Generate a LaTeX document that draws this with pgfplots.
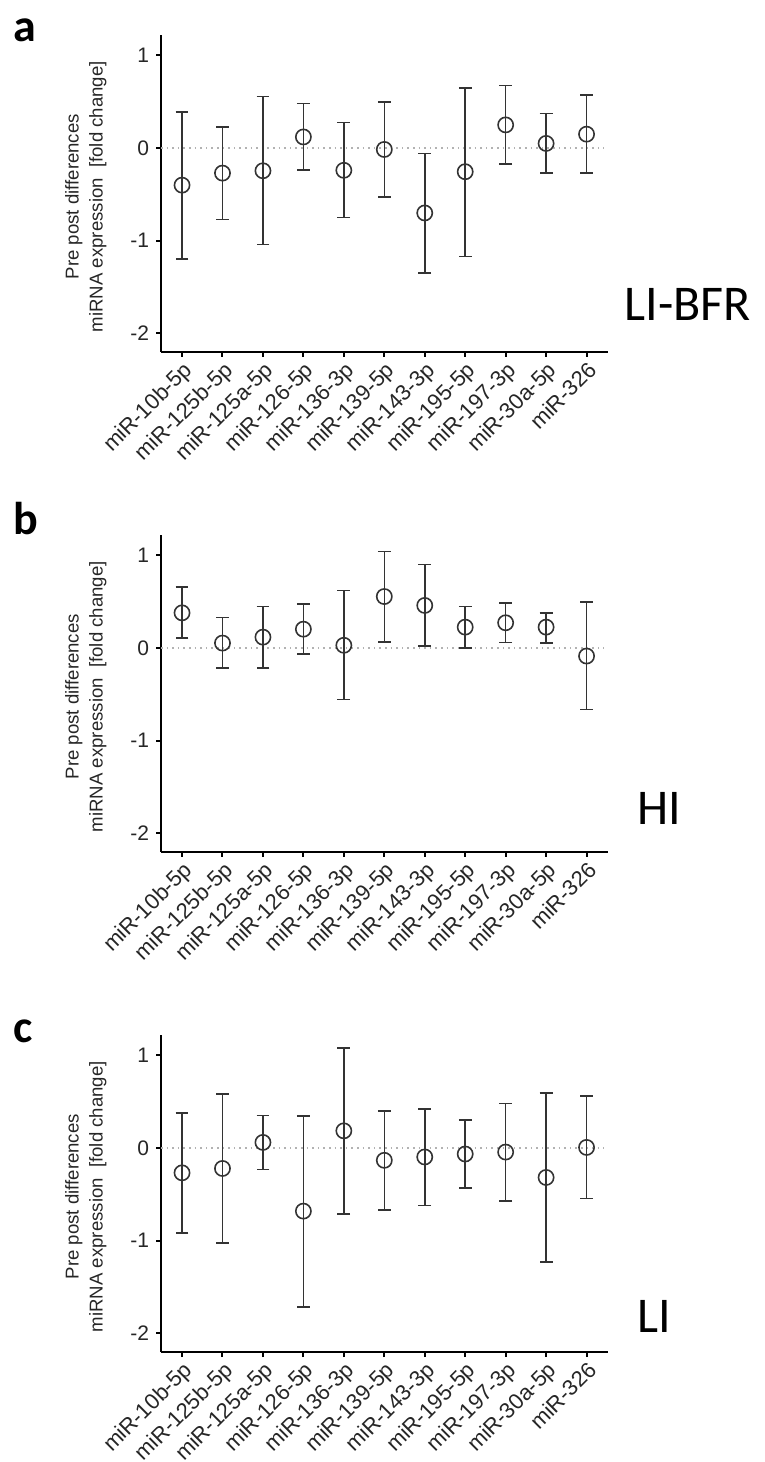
\documentclass[border=0pt]{standalone}
\usepackage{pgfplots}
\pgfplotsset{compat=1.18}
\usepackage{pgfplotstable}
\usepackage{fontspec}
\setmainfont{Liberation Sans}
\newfontfamily\carlito{Carlito}

\pgfplotstableread{
x y hi lo
0 -0.40 0.39 -1.20
1 -0.27 0.23 -0.77
2 -0.245 0.555 -1.04
3 0.12 0.48 -0.235
4 -0.24 0.275 -0.75
5 -0.015 0.50 -0.53
6 -0.70 -0.06 -1.35
7 -0.255 0.65 -1.17
8 0.25 0.675 -0.17
9 0.05 0.375 -0.27
10 0.15 0.575 -0.27
}\dataA

\pgfplotstableread{
x y hi lo
0 0.38 0.656 0.108
1 0.054 0.33 -0.215
2 0.118 0.45 -0.215
3 0.204 0.477 -0.065
4 0.03 0.62 -0.555
5 0.556 1.04 0.065
6 0.46 0.90 0.02
7 0.226 0.448 0.0
8 0.273 0.484 0.061
9 0.226 0.38 0.054
10 -0.086 0.495 -0.662
}\dataB

\pgfplotstableread{
x y hi lo
0 -0.267 0.379 -0.916
1 -0.22 0.582 -1.027
2 0.061 0.35 -0.231
3 -0.68 0.347 -1.715
4 0.186 1.077 -0.709
5 -0.132 0.40 -0.666
6 -0.096 0.421 -0.62
7 -0.064 0.30 -0.431
8 -0.043 0.481 -0.57
9 -0.317 0.596 -1.23
10 0.007 0.564 -0.545
}\dataC

\pgfplotsset{mirstyle/.style={
  scale only axis, width=223.5pt, height=158.5pt,
  xmin=-0.52, xmax=10.53, ymin=-2.2, ymax=1.22,
  axis lines*=left,
  axis line style={line width=1pt, black},
  xtick={0,1,2,3,4,5,6,7,8,9,10},
  xticklabels={miR-10b-5p,miR-125b-5p,miR-125a-5p,miR-126-5p,miR-136-3p,miR-139-5p,miR-143-3p,miR-195-5p,miR-197-3p,miR-30a-5p,miR-326},
  ytick={-2,-1,0,1}, yticklabels={-2,-1,0,1},
  tick align=outside, major tick length=2.5pt,
  tick style={line width=1pt, black},
  xticklabel style={rotate=45, anchor=north east, font=\fontsize{11}{12}\selectfont, inner sep=1pt, text=black!85},
  yticklabel style={font=\fontsize{10.5}{12}\selectfont, text=black!85},
  ylabel={Pre post differences\\miRNA expression\ \ [fold change]},
  every axis y label/.style={at={(axis description cs:-0.168,0.49)}, rotate=90, anchor=center,
     align=center, font=\fontsize{9.3}{12}\selectfont, text=black!85},
  clip=false,
}}

\newcommand{\panel}[1]{%
  \addplot[gray!60, dotted, line width=0.8pt, forget plot] coordinates {(-0.52,0) (10.42,0)};
  \addplot[black!80, line width=0.8pt, only marks, mark=o, mark size=3.8pt,
    error bars/.cd, y dir=both, y explicit,
    error bar style={line width=0.8pt, black!80},
    error mark options={rotate=90, mark size=3.2pt, line width=0.8pt, black!80}]
    table[x=x, y=y, y error plus expr=\thisrow{hi}-\thisrow{y}, y error minus expr=\thisrow{y}-\thisrow{lo}] {#1};
}

\begin{document}
\begin{tikzpicture}
\useasboundingbox (0,0) rectangle (382.5pt,731pt);
\begin{axis}[mirstyle, at={(80.5pt,555pt)}, anchor=south west]
\panel{\dataA}
\end{axis}
\begin{axis}[mirstyle, at={(80.5pt,305pt)}, anchor=south west]
\panel{\dataB}
\end{axis}
\begin{axis}[mirstyle, at={(80.5pt,55pt)}, anchor=south west]
\panel{\dataC}
\end{axis}
\node[anchor=base west, font=\carlito\bfseries\fontsize{23}{24}\selectfont, inner sep=0pt] at (6.5pt,710pt) {a};
\node[anchor=base west, font=\carlito\bfseries\fontsize{23}{24}\selectfont, inner sep=0pt] at (6.5pt,463.5pt) {b};
\node[anchor=base west, font=\carlito\bfseries\fontsize{23}{24}\selectfont, inner sep=0pt] at (6.5pt,209.5pt) {c};
\node[anchor=base west, font=\carlito\fontsize{25}{28}\selectfont, inner sep=0pt] at (312pt,570.5pt) {LI-BFR};
\node[anchor=base west, font=\carlito\fontsize{25}{28}\selectfont, inner sep=0pt] at (318.5pt,318.5pt) {HI};
\node[anchor=base west, font=\carlito\fontsize{25}{28}\selectfont, inner sep=0pt] at (318.5pt,64.5pt) {LI};
\end{tikzpicture}
\end{document}
